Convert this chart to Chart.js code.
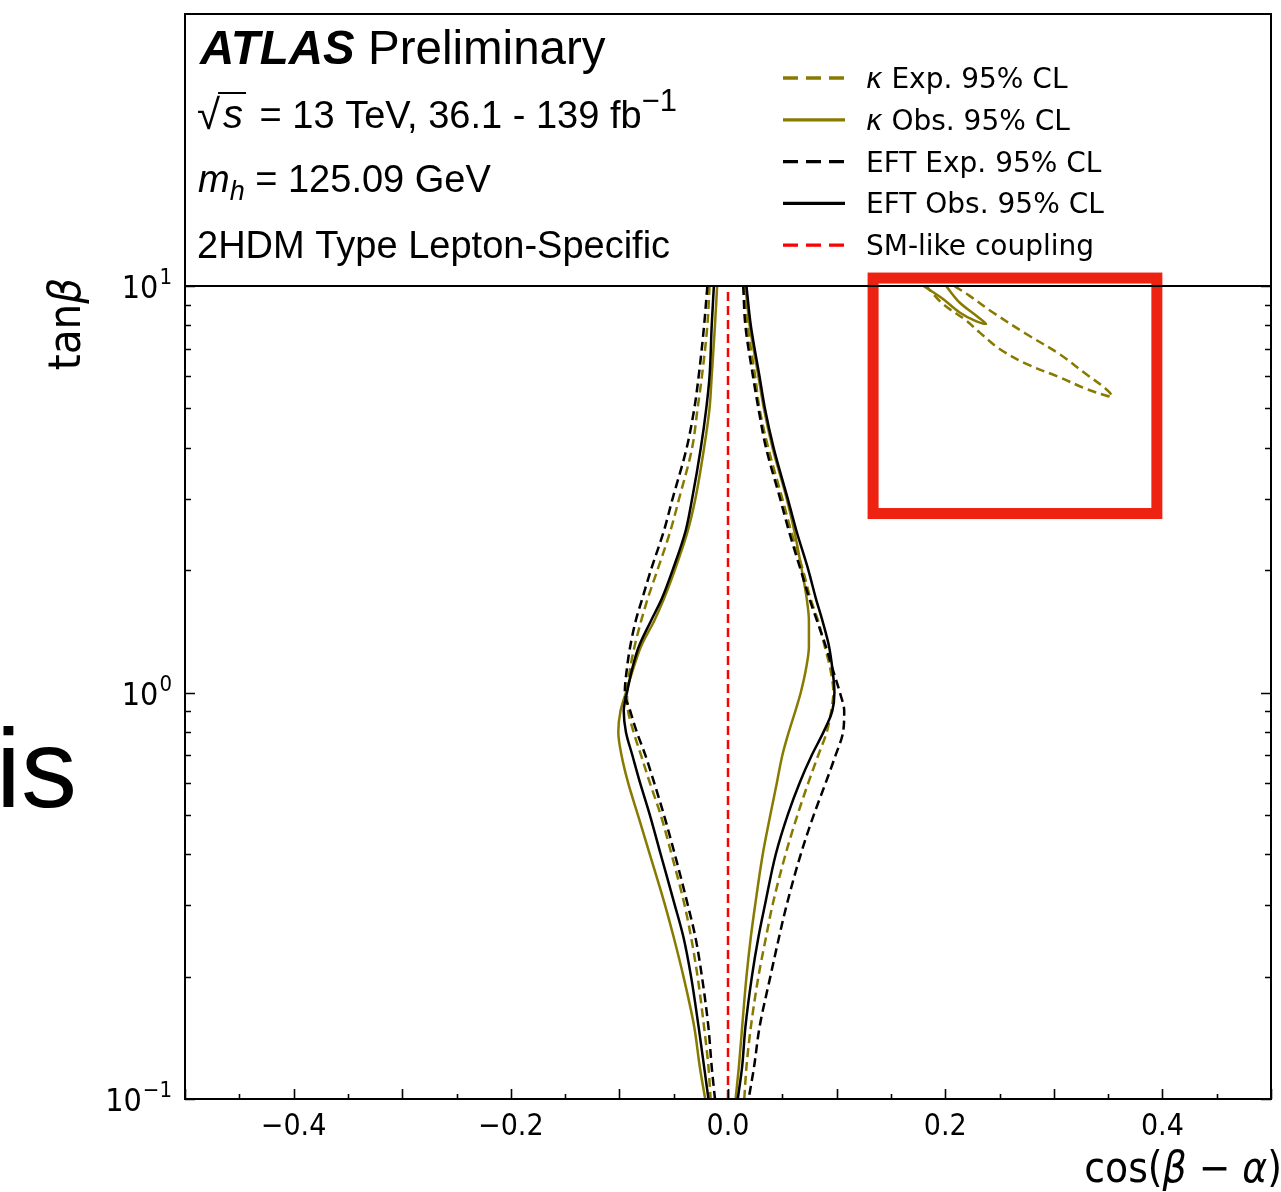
<!DOCTYPE html>
<html>
<head>
<meta charset="utf-8">
<script src="https://cdn.jsdelivr.net/npm/chart.js@4.4.1/dist/chart.umd.min.js"></script>
<style>
  html, body { margin: 0; padding: 0; background: #fff; }
  canvas { display: block; }
</style>
</head>
<body>
<canvas id="contourChart" width="1281" height="1192"></canvas>
<script>
// tan(beta) grid used by the main contour branches
const tanBeta = [10, 8, 6, 5, 4, 3, 2.5, 2, 1.7, 1.5, 1.3, 1.15, 1.0, 0.9, 0.8, 0.7, 0.6, 0.5, 0.4, 0.3, 0.25, 0.2, 0.15, 0.12, 0.1];

// cos(beta - alpha) of each branch at those tan(beta) values
const kappaExpLeft  = [-0.017, -0.019, -0.024, -0.028, -0.033, -0.045, -0.053, -0.065, -0.074, -0.080, -0.086, -0.090, -0.093, -0.092, -0.087, -0.080, -0.072, -0.062, -0.052, -0.040, -0.034, -0.028, -0.022, -0.018, -0.016];
const kappaExpRight = [0.015, 0.018, 0.025, 0.029, 0.037, 0.050, 0.058, 0.069, 0.076, 0.083, 0.089, 0.094, 0.097, 0.095, 0.091, 0.083, 0.074, 0.064, 0.053, 0.041, 0.035, 0.028, 0.021, 0.017, 0.015];
const kappaObsLeft  = [-0.010, -0.012, -0.015, -0.017, -0.022, -0.030, -0.037, -0.049, -0.059, -0.068, -0.080, -0.087, -0.094, -0.099, -0.101, -0.098, -0.092, -0.083, -0.072, -0.058, -0.050, -0.041, -0.031, -0.026, -0.021];
const kappaObsRight = [0.016, 0.020, 0.028, 0.033, 0.041, 0.054, 0.061, 0.068, 0.0725, 0.0745, 0.0745, 0.072, 0.067, 0.062, 0.056, 0.050, 0.045, 0.039, 0.032, 0.025, 0.021, 0.017, 0.013, 0.010, 0.007];
const eftExpLeft    = [-0.019, -0.022, -0.027, -0.031, -0.038, -0.051, -0.059, -0.071, -0.079, -0.085, -0.090, -0.093, -0.095, -0.090, -0.084, -0.076, -0.068, -0.059, -0.049, -0.037, -0.030, -0.024, -0.018, -0.015, -0.012];
const eftExpRight   = [0.014, 0.016, 0.023, 0.028, 0.035, 0.048, 0.056, 0.067, 0.075, 0.082, 0.090, 0.096, 0.103, 0.107, 0.106, 0.099, 0.090, 0.079, 0.067, 0.054, 0.047, 0.039, 0.029, 0.024, 0.019];
const eftObsLeft    = [-0.013, -0.015, -0.017, -0.020, -0.025, -0.033, -0.039, -0.051, -0.061, -0.071, -0.082, -0.088, -0.093, -0.096, -0.094, -0.088, -0.081, -0.072, -0.062, -0.049, -0.041, -0.034, -0.027, -0.022, -0.018];
const eftObsRight   = [0.017, 0.021, 0.029, 0.034, 0.042, 0.055, 0.063, 0.074, 0.081, 0.087, 0.093, 0.096, 0.098, 0.096, 0.088, 0.077, 0.066, 0.055, 0.044, 0.034, 0.028, 0.022, 0.016, 0.013, 0.009];

// small kappa islands at large tan(beta), closed loops
const islandExpX   = [0.2084, 0.2222, 0.2436, 0.2743, 0.3049, 0.3294, 0.3478, 0.3538, 0.3478, 0.3294, 0.3049, 0.2743, 0.2498, 0.2314, 0.2192, 0.1977, 0.1825];
const islandExpTan = [10, 9.47, 8.62, 7.63, 6.81, 6.08, 5.59, 5.35, 5.38, 5.59, 5.97, 6.44, 7.01, 7.70, 8.23, 9.04, 10];
const islandObsX   = [0.180, 0.1977, 0.2130, 0.2268, 0.2376, 0.2284, 0.2130, 0.2008];
const islandObsTan = [10, 9.30, 8.62, 8.23, 8.07, 8.46, 9.12, 10];

// SM-like line
const smX = [0, 0];
const smTan = [0.1, 10];

const legendLabels = ['κ Exp. 95% CL', 'κ Obs. 95% CL', 'EFT Exp. 95% CL', 'EFT Obs. 95% CL', 'SM-like coupling'];

// highlighted region (cos, tanβ corners)
const boxX = [0.1336, 0.3949];
const boxTan = [2.756, 10.46];

const OLIVE = '#887a00';
const styles = [
  { borderColor: OLIVE, borderDash: [9, 5] },
  { borderColor: OLIVE, borderDash: [] },
  { borderColor: '#000', borderDash: [9, 5] },
  { borderColor: '#000', borderDash: [] },
  { borderColor: '#ff0000', borderDash: [9, 5] }
];

// branches are single-valued in tan(beta), so interpolate along y
function branch(series, xs, ys) {
  return Object.assign({
    label: legendLabels[series],
    data: xs.map((x, i) => ({ x: x, y: ys[i] })),
    indexAxis: 'y',
    cubicInterpolationMode: 'monotone',
    borderWidth: 2.5,
    pointRadius: 0,
    fill: false
  }, styles[series]);
}

function loop(series, xs, ys) {
  return Object.assign(branch(series, xs, ys), {
    indexAxis: 'x',
    cubicInterpolationMode: 'default',
    tension: 0.35
  });
}

const datasets = [
  branch(2, eftExpLeft, tanBeta), branch(2, eftExpRight, tanBeta),
  branch(3, eftObsLeft, tanBeta), branch(3, eftObsRight, tanBeta),
  branch(0, kappaExpLeft, tanBeta), branch(0, kappaExpRight, tanBeta),
  branch(1, kappaObsLeft, tanBeta), branch(1, kappaObsRight, tanBeta),
  loop(0, islandExpX, islandExpTan),
  loop(1, islandObsX, islandObsTan),
  branch(4, smX, smTan)
];

const AXIS_FONT = '"DejaVu Sans Condensed", "DejaVu Sans"';
const HEAD_FONT = '"Liberation Sans", Arial, sans-serif';

function runs(ctx, x, y, parts) {
  parts.forEach(p => {
    ctx.font = p.font;
    ctx.fillText(p.t, x, y + (p.dy || 0));
    x += ctx.measureText(p.t).width;
  });
  return x;
}

function widthOf(ctx, parts) {
  let w = 0;
  parts.forEach(p => { ctx.font = p.font; w += ctx.measureText(p.t).width; });
  return w;
}

const decorations = {
  id: 'decorations',
  afterDatasetsDraw(chart) {
    const { ctx, scales: { x, y } } = chart;
    // red highlight rectangle
    const l = x.getPixelForValue(boxX[0]), r = x.getPixelForValue(boxX[1]);
    const t = y.getPixelForValue(boxTan[1]), b = y.getPixelForValue(boxTan[0]);
    ctx.save();
    ctx.strokeStyle = '#ee2211';
    ctx.lineWidth = 11;
    ctx.strokeRect(l, t, r - l, b - t);
    ctx.restore();
  },
  afterDraw(chart) {
    const { ctx, chartArea: a, scales: { x, y } } = chart;
    const frameTop = 14;
    ctx.save();
    ctx.strokeStyle = '#000';
    ctx.fillStyle = '#000';
    ctx.lineWidth = 2;
    ctx.strokeRect(a.left, frameTop, a.right - a.left, a.bottom - frameTop);
    ctx.beginPath();
    ctx.moveTo(a.left, a.top);
    ctx.lineTo(a.right, a.top);
    ctx.stroke();

    // inward ticks
    ctx.lineWidth = 1.6;
    ctx.beginPath();
    for (let i = -10; i <= 10; i++) {
      const px = Math.round(x.getPixelForValue(i * 0.05)) + 0.5;
      const len = i % 2 === 0 ? 10 : 5;
      ctx.moveTo(px, a.bottom);
      ctx.lineTo(px, a.bottom - len);
    }
    for (let e = -1; e <= 1; e++) {
      for (let m = 1; m <= 9; m++) {
        const v = m * Math.pow(10, e);
        if (v > 10.0001) break;
        const py = Math.round(y.getPixelForValue(v)) + 0.5;
        const len = m === 1 ? 10 : 6;
        ctx.moveTo(a.left, py); ctx.lineTo(a.left + len, py);
        ctx.moveTo(a.right, py); ctx.lineTo(a.right - len, py);
      }
    }
    ctx.stroke();

    // y tick labels 10^n
    ctx.textAlign = 'left';
    ctx.textBaseline = 'alphabetic';
    [[0.1, '−1'], [1, '0'], [10, '1']].forEach(([v, p]) => {
      const py = y.getPixelForValue(v);
      ctx.font = '22px ' + AXIS_FONT;
      const wSup = ctx.measureText(p).width;
      ctx.font = '32px ' + AXIS_FONT;
      const wBase = ctx.measureText('10').width;
      const x0 = 171 - wSup - wBase;
      ctx.fillText('10', x0, py + 12);
      ctx.font = '22px ' + AXIS_FONT;
      ctx.fillText(p, x0 + wBase + 1, py - 2);
    });

    // axis titles
    const titleParts = [
      { t: 'cos(', font: '42px ' + AXIS_FONT },
      { t: 'β', font: 'italic 42px ' + AXIS_FONT },
      { t: ' − ', font: '42px ' + AXIS_FONT },
      { t: 'α', font: 'italic 42px ' + AXIS_FONT },
      { t: ')', font: '42px ' + AXIS_FONT }
    ];
    runs(ctx, 1282 - widthOf(ctx, titleParts), 1182, titleParts);

    ctx.save();
    ctx.translate(80, 278);
    ctx.rotate(-Math.PI / 2);
    const yParts = [
      { t: 'tan', font: '45px ' + AXIS_FONT },
      { t: 'β', font: 'italic 45px ' + AXIS_FONT }
    ];
    runs(ctx, -widthOf(ctx, yParts), 0, yParts);
    ctx.restore();

    // header block
    runs(ctx, 200, 64, [
      { t: 'ATLAS', font: 'italic bold 47.5px ' + HEAD_FONT },
      { t: ' Preliminary', font: '47.5px ' + HEAD_FONT }
    ]);
    ctx.font = '42px ' + HEAD_FONT;
    ctx.fillText('√', 197, 129);
    const sx = 197 + ctx.measureText('√').width;
    const ex = runs(ctx, sx + 3, 128, [{ t: 's', font: 'italic 40px ' + HEAD_FONT }]);
    ctx.lineWidth = 2;
    ctx.beginPath();
    ctx.moveTo(sx - 2, 93); ctx.lineTo(ex + 3, 93);
    ctx.stroke();
    runs(ctx, 249, 128, [
      { t: ' = 13 TeV, 36.1 - 139 fb', font: '38px ' + HEAD_FONT },
      { t: '−1', font: '31px ' + HEAD_FONT, dy: -17 }
    ]);
    runs(ctx, 198, 192, [
      { t: 'm', font: 'italic 38px ' + HEAD_FONT },
      { t: 'h', font: 'italic 27px ' + HEAD_FONT, dy: 8 },
      { t: ' = 125.09 GeV', font: '38px ' + HEAD_FONT }
    ]);
    runs(ctx, 197, 258, [{ t: '2HDM Type Lepton-Specific', font: '38px ' + HEAD_FONT }]);

    // legend
    legendLabels.forEach((label, i) => {
      const cy = 78 + i * 41.8;
      const st = styles[i];
      ctx.strokeStyle = st.borderColor;
      ctx.lineWidth = 3.3;
      ctx.setLineDash(st.borderDash.length ? [15, 8] : []);
      ctx.beginPath();
      ctx.moveTo(783, cy); ctx.lineTo(845, cy);
      ctx.stroke();
      ctx.setLineDash([]);
      ctx.fillStyle = '#000';
      const base = cy + 10;
      if (label.startsWith('κ')) {
        runs(ctx, 866, base, [
          { t: 'κ', font: 'italic 28px "DejaVu Sans"' },
          { t: label.slice(1), font: '28px "DejaVu Sans"' }
        ]);
      } else {
        runs(ctx, 866, base, [{ t: label, font: '28px "DejaVu Sans"' }]);
      }
    });

    // stray page text on the left
    ctx.fillStyle = '#000';
    ctx.font = '112px ' + HEAD_FONT;
    ctx.fillText('is', -4, 807);
    ctx.restore();
  }
};

new Chart(document.getElementById('contourChart'), {
  type: 'line',
  data: { datasets: datasets },
  options: {
    responsive: false,
    animation: false,
    events: [],
    layout: { padding: { top: 286, right: 10, left: 0, bottom: 0 } },
    plugins: { legend: { display: false }, tooltip: { enabled: false } },
    scales: {
      x: {
        type: 'linear',
        min: -0.5,
        max: 0.5,
        grid: { display: false, drawTicks: false },
        border: { display: false },
        ticks: {
          stepSize: 0.1,
          autoSkip: false,
          maxRotation: 0,
          padding: 10,
          color: '#000',
          font: { family: AXIS_FONT, size: 30 },
          callback: v => {
            const k = Math.round(v * 10);
            if (k % 2 !== 0 || Math.abs(k) > 4) return '';
            return (k < 0 ? '−' : '') + (Math.abs(k) / 10).toFixed(1);
          }
        },
        afterFit: s => { s.height = 93; }
      },
      y: {
        type: 'logarithmic',
        min: 0.1,
        max: 10,
        grid: { display: false },
        border: { display: false },
        ticks: { display: false },
        afterFit: s => { s.width = 185; }
      }
    }
  },
  plugins: [decorations]
});
</script>
</body>
</html>
